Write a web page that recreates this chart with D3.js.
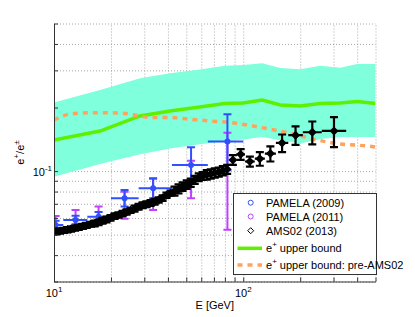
<!DOCTYPE html>
<html lang="en">
<head>
<meta charset="utf-8">
<style>
  body { margin: 0; background: #fff; }
  svg { font-family: 'Liberation Sans', Arial, sans-serif; font-size: 11px; }
  .grid line { stroke: #a8a8a8; stroke-width: 1; stroke-dasharray: 1,2; }
  .grid path { display: none; }
  .axis path, .axis line { stroke: #333; }
</style>
</head>
<body>
<svg width="415" height="317"></svg>
<script src="https://cdn.jsdelivr.net/npm/d3@7"></script>
<script>
// model grid (GeV) and band / upper bound
var modelE     = [10, 17.5, 28.5, 41, 59, 80, 100, 126, 157, 200, 255, 326, 400, 500];
var bandUpper  = [0.211, 0.242, 0.275, 0.291, 0.303, 0.315, 0.318, 0.324, 0.308, 0.304, 0.315, 0.309, 0.3215, 0.3215];
var bandLower  = [0.094, 0.108, 0.120, 0.128, 0.134, 0.138, 0.141, 0.145, 0.140, 0.135, 0.142, 0.145, 0.145, 0.145];
var upperBound = [0.1404, 0.1548, 0.1824, 0.1926, 0.2012, 0.209, 0.2101, 0.2172, 0.2057, 0.2034, 0.209, 0.2101, 0.2137, 0.209];

// pre-AMS02 upper bound
var preE   = [10, 12.2, 16.5, 22.3, 28.5, 32.2, 41.1, 52.4, 66.9, 85.4, 105, 131, 184, 246, 326, 453, 500];
var preVal = [0.1746, 0.1864, 0.189, 0.1884, 0.1824, 0.1794, 0.1794, 0.176, 0.1727, 0.1699, 0.1653, 0.1595, 0.1499, 0.1404, 0.1344, 0.1315, 0.1301];

// PAMELA 2009
var pam09E    = [10.2, 13.0, 17.2, 23.6, 33.4, 53, 82.5];
var pam09ELo  = [9.1, 11.2, 15, 20, 28, 42, 65];
var pam09EHi  = [11.2, 15, 20, 28, 42, 65, 100];
var pam09Val  = [0.0556, 0.0587, 0.0607, 0.0744, 0.083, 0.107, 0.138];
var pam09Lo   = [0.0530, 0.0560, 0.0575, 0.0679, 0.0744, 0.088, 0.101];
var pam09Hi   = [0.0582, 0.0615, 0.0640, 0.0814, 0.0924, 0.1296, 0.186];

// PAMELA 2011
var pam11E    = [10.2, 13.0, 17.2, 23.6, 33.4, 53, 82.5];
var pam11Val  = [0.0565, 0.0590, 0.0625, 0.0690, 0.078, 0.092, 0.092];
var pam11Lo   = [0.0520, 0.0530, 0.0570, 0.0595, 0.0655, 0.0744, 0.0527];
var pam11Hi   = [0.0613, 0.0655, 0.0679, 0.0799, 0.092, 0.112, 0.152];

// AMS02 2013
var amsEdges = [10.0, 10.5, 11.0, 11.5, 12.0, 12.6, 13.2, 13.8, 14.5, 15.2, 16.0, 16.8, 17.6, 18.5, 19.4,
  20.4, 21.4, 22.5, 23.6, 24.8, 26.0, 27.3, 28.7, 30.1, 31.6, 33.2, 34.9, 36.6, 38.4, 40.3, 42.3, 44.4,
  46.6, 49.0, 51.5, 54.1, 56.8, 59.6, 62.6, 65.7, 69.0, 72.5, 76.1, 80.0, 84.5, 92.0, 102.1, 115.1,
  130.1, 148.8, 173.0, 206.5, 260.0, 350.0];
var amsVal = [0.0517, 0.0520, 0.0524, 0.0528, 0.0532, 0.0537, 0.0542, 0.0548, 0.0553, 0.0560,
  0.0565, 0.0572, 0.0582, 0.0590, 0.0601, 0.0612, 0.0620, 0.0630, 0.0640, 0.0652,
  0.0665, 0.0678, 0.0690, 0.0697, 0.0706, 0.0716, 0.0730, 0.0745, 0.0768, 0.0787,
  0.0805, 0.0825, 0.0845, 0.0863, 0.0882, 0.0910, 0.0935, 0.0948, 0.0960, 0.0970,
  0.0980, 0.0990, 0.1005, 0.1020, 0.1129, 0.1200, 0.1110, 0.1145, 0.1210, 0.1360,
  0.1480, 0.1527, 0.1550];
var amsErr = [0.0015, 0.0015, 0.0015, 0.0015, 0.0015, 0.0015, 0.0015, 0.0015, 0.0015, 0.0015,
  0.0018, 0.0018, 0.0018, 0.0018, 0.0018, 0.0018, 0.0018, 0.0018, 0.0018, 0.0018,
  0.0022, 0.0022, 0.0022, 0.0022, 0.0022, 0.0022, 0.0022, 0.0022, 0.0022, 0.0022,
  0.004, 0.004, 0.004, 0.004, 0.004, 0.004, 0.004, 0.004, 0.005, 0.005,
  0.005, 0.005, 0.005, 0.005, 0.006, 0.007, 0.006, 0.0085, 0.010, 0.013,
  0.015, 0.019, 0.025];

var xTicks = [10, 20, 30, 40, 50, 60, 70, 80, 90, 100, 200, 300, 400, 500];
var yTicks = [0.03, 0.04, 0.05, 0.06, 0.07, 0.08, 0.09, 0.1, 0.2, 0.3, 0.4, 0.5];

var svg = d3.select("svg");
var x = d3.scaleLog().domain([10, 500]).range([54, 375.5]);
var y = d3.scaleLog().domain([0.03, 0.5]).range([281.5, 23.5]);
var pL = x.range()[0], pR = x.range()[1], pT = y.range()[1], pB = y.range()[0];

svg.append("defs").append("clipPath").attr("id", "clip")
  .append("rect").attr("x", pL).attr("y", pT).attr("width", pR - pL).attr("height", pB - pT);

// grid
svg.append("g").attr("class", "grid")
  .attr("transform", "translate(0," + pB + ")")
  .call(d3.axisBottom(x).tickValues(xTicks).tickSize(-(pB - pT)).tickFormat(""));
svg.append("g").attr("class", "grid")
  .attr("transform", "translate(" + pL + ",0)")
  .call(d3.axisLeft(y).tickValues(yTicks).tickSize(-(pR - pL)).tickFormat(""));

var plot = svg.append("g").attr("clip-path", "url(#clip)");

// band
var band = modelE.map((e, i) => ({e: e, lo: bandLower[i], hi: bandUpper[i]}));
plot.append("path").datum(band)
  .attr("fill", "#7fffdc")
  .attr("d", d3.area().x(d => x(d.e)).y0(d => y(d.lo)).y1(d => y(d.hi)));

plot.append("path").datum(modelE.map((e, i) => [e, upperBound[i]]))
  .attr("fill", "none").attr("stroke", "#5ef000").attr("stroke-width", 3.5)
  .attr("d", d3.line().x(d => x(d[0])).y(d => y(d[1])));

plot.append("path").datum(preE.map((e, i) => [e, preVal[i]]))
  .attr("fill", "none").attr("stroke", "#ffa25e").attr("stroke-width", 3.5)
  .attr("stroke-dasharray", "5,5")
  .attr("d", d3.line().curve(d3.curveMonotoneX).x(d => x(d[0])).y(d => y(d[1])));

var cap = 4;
function errorbars(g, pts, color, w) {
  pts.forEach(p => {
    var cx = x(p.e);
    g.append("line").attr("x1", cx).attr("x2", cx).attr("y1", y(p.lo)).attr("y2", y(p.hi));
    [p.lo, p.hi].forEach(v => g.append("line")
      .attr("x1", cx - cap).attr("x2", cx + cap).attr("y1", y(v)).attr("y2", y(v)));
    if (p.elo) g.append("line").attr("x1", x(p.elo)).attr("x2", x(p.ehi))
      .attr("y1", y(p.v)).attr("y2", y(p.v));
  });
  g.attr("stroke", color).attr("stroke-width", w);
}

// PAMELA 2011
var g11 = plot.append("g");
errorbars(g11, pam11E.map((e, i) => ({e: e, v: pam11Val[i], lo: pam11Lo[i], hi: pam11Hi[i]})), "#c040ff", 2);

// PAMELA 2009
var g09 = plot.append("g");
var p09 = pam09E.map((e, i) => ({e: e, v: pam09Val[i], lo: pam09Lo[i], hi: pam09Hi[i], elo: pam09ELo[i], ehi: pam09EHi[i]}));
errorbars(g09, p09, "#3050ff", 2);
plot.append("g").selectAll("circle").data(p09).join("circle")
  .attr("cx", d => x(d.e)).attr("cy", d => y(d.v)).attr("r", 3).attr("fill", "#3050ff");

// AMS02
var ams = amsVal.map((v, i) => ({
  e: Math.sqrt(amsEdges[i] * amsEdges[i + 1]), v: v,
  lo: v - amsErr[i], hi: v + amsErr[i], elo: amsEdges[i], ehi: amsEdges[i + 1]
}));
var gA = plot.append("g");
errorbars(gA, ams, "#000", 2.2);
plot.append("g").selectAll("path").data(ams).join("path")
  .attr("transform", d => "translate(" + x(d.e) + "," + y(d.v) + ")")
  .attr("d", "M0,-4.5L4.5,0L0,4.5L-4.5,0Z").attr("fill", "#000");

// axes
svg.append("g").attr("class", "axis")
  .attr("transform", "translate(0," + pB + ")")
  .call(d3.axisBottom(x).tickValues(xTicks).tickSizeInner(-4).tickSizeOuter(0).tickFormat(""));
svg.append("g").attr("class", "axis")
  .attr("transform", "translate(" + pL + ",0)")
  .call(d3.axisLeft(y).tickValues(yTicks).tickSizeInner(-4).tickSizeOuter(0).tickFormat(""));

function powLabel(tx, ty, base, exp, anchor) {
  var t = svg.append("text").attr("x", tx).attr("y", ty).attr("text-anchor", anchor).attr("fill", "#000");
  t.append("tspan").text(base);
  t.append("tspan").attr("dy", -5).attr("font-size", "8px").text(exp);
}
powLabel(x(10), 297, "10", "1", "middle");
powLabel(x(100), 297, "10", "2", "middle");
powLabel(pL - 2, 176, "10", "-1", "end");

svg.append("text").attr("x", (pL + pR) / 2).attr("y", 309).attr("text-anchor", "middle").text("E [GeV]");

var yl = svg.append("text").attr("transform", "translate(24," + ((pT + pB) / 2) + ") rotate(-90)")
  .attr("text-anchor", "middle");
yl.append("tspan").text("e");
yl.append("tspan").attr("dy", -5).attr("font-size", "8px").text("+");
yl.append("tspan").attr("dy", 5).text("/e");
yl.append("tspan").attr("dy", -5).attr("font-size", "8px").text("\u00b1");

// legend
var lg = svg.append("g");
lg.append("rect").attr("x", 233.5).attr("y", 193.5).attr("width", 143).attr("height", 81)
  .attr("fill", "#fff").attr("stroke", "#333");
var names = ["PAMELA (2009)", "PAMELA (2011)", "AMS02 (2013)"];
var rowsY = [202.7, 216.5, 230.7, 248.3, 265];
lg.append("circle").attr("cx", 250.7).attr("cy", rowsY[0]).attr("r", 2.5).attr("fill", "none").attr("stroke", "#3050ff");
lg.append("circle").attr("cx", 250.7).attr("cy", rowsY[1]).attr("r", 2.5).attr("fill", "none").attr("stroke", "#c040ff");
lg.append("path").attr("transform", "translate(250.7," + rowsY[2] + ")").attr("d", "M0,-3L3,0L0,3L-3,0Z")
  .attr("fill", "none").attr("stroke", "#000");
names.forEach((n, i) => lg.append("text").attr("x", 266).attr("y", rowsY[i] + 4).text(n));
lg.append("line").attr("x1", 237.5).attr("x2", 262).attr("y1", rowsY[3]).attr("y2", rowsY[3])
  .attr("stroke", "#5ef000").attr("stroke-width", 3.5);
lg.append("line").attr("x1", 237.5).attr("x2", 262).attr("y1", rowsY[4]).attr("y2", rowsY[4])
  .attr("stroke", "#ffa25e").attr("stroke-width", 3.5).attr("stroke-dasharray", "5,5");
[["upper bound", 3], ["upper bound: pre-AMS02", 4]].forEach(r => {
  var t = lg.append("text").attr("x", 266).attr("y", rowsY[r[1]] + 4);
  t.append("tspan").text("e");
  t.append("tspan").attr("dy", -5).attr("font-size", "8px").text("+");
  t.append("tspan").attr("dy", 5).text(" " + r[0]);
});
</script>
</body>
</html>
